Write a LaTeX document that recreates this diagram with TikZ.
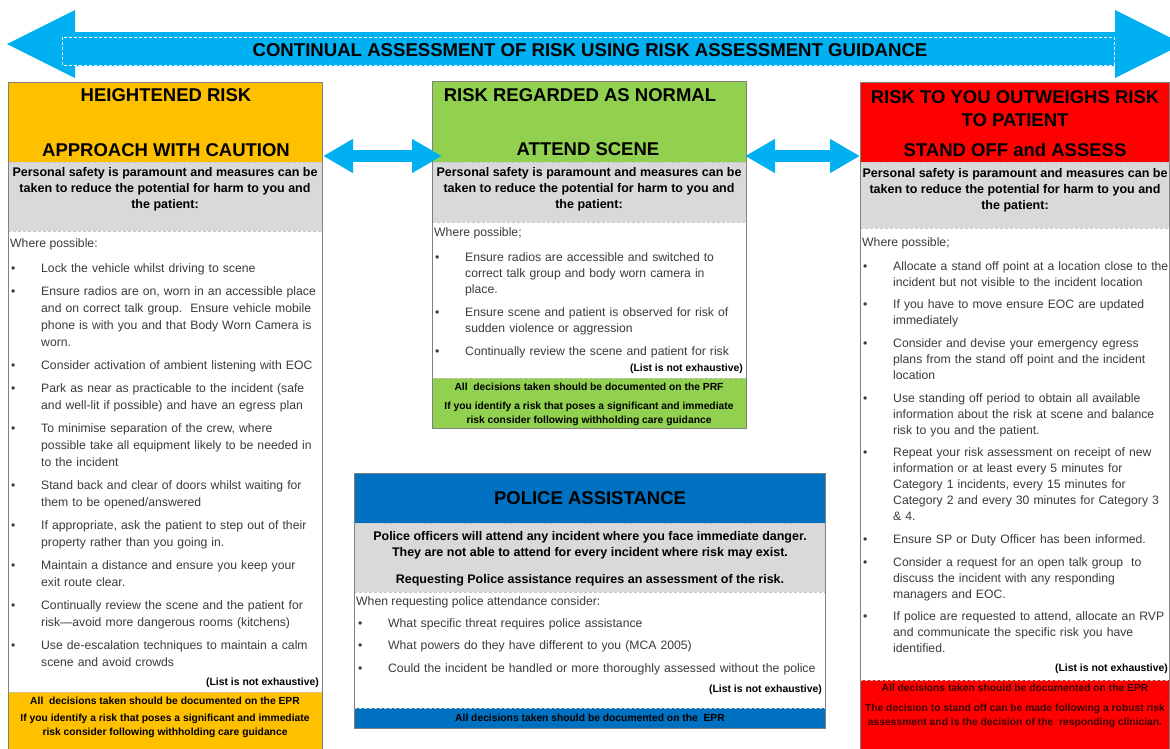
\documentclass[tikz,border=0pt]{standalone}
\usepackage{fontspec}
\setmainfont{Liberation Sans}
\usetikzlibrary{arrows.meta}

\definecolor{cautionorange}{HTML}{FFC000}
\definecolor{normalgreen}{HTML}{92D050}
\definecolor{policeblue}{HTML}{0070C0}
\definecolor{standred}{HTML}{FF0000}
\definecolor{panelgrey}{HTML}{D9D9D9}
\definecolor{arrowcyan}{HTML}{00B0F0}
\definecolor{bodytext}{HTML}{3A3A3A}
\definecolor{footred}{HTML}{3D0000}

\newcommand\itm[1]{\hangindent=30pt\hangafter=1\noindent\hbox to 30pt{\textbullet\hss}#1\par}

\tikzset{
  headline/.style={font=\fontsize{18.5}{22}\selectfont\bfseries, inner sep=0pt},
  leadtext/.style={font=\fontsize{12.5}{16}\selectfont\bfseries, align=center, inner sep=0pt, anchor=north},
  wheretext/.style={font=\fontsize{12.2}{16}\selectfont, text=bodytext, inner sep=0pt, anchor=north west},
  itemlist/.style 2 args={font=\fontsize{12.2}{#1}\selectfont, text=bodytext, inner sep=0pt,
    anchor=north west, text width=330pt, execute at begin node={\setlength{\parskip}{#2pt}}},
  notetext/.style={font=\fontsize{10.4}{12}\selectfont\bfseries, inner sep=0pt, anchor=east},
  foottext/.style={font=\fontsize{10.3}{14}\selectfont\bfseries, align=center, inner sep=0pt, anchor=north},
  panelframe/.style={draw=gray, line width=0.7pt},
  seam/.style={draw=gray!45, densely dashed, line width=0.6pt},
  linkarrow/.style={arrowcyan, line width=12pt,
    {Triangle[length=30pt,width=32pt]}-{Triangle[length=30pt,width=32pt]}}
}

\begin{document}
\begin{tikzpicture}[x=1pt,y=-1pt]
\useasboundingbox (0,0) rectangle (1170,748);

% assessment arrow across the top
\fill[arrowcyan] (7,44) -- (75,10) -- (75,32) -- (1115,32) -- (1115,10) -- (1183,44)
  -- (1115,78) -- (1115,66) -- (75,66) -- (75,78) -- cycle;
\draw[white, densely dashed, line width=0.5pt] (62,37) rectangle (1114,65);
\node[font=\fontsize{18.6}{20}\selectfont\bfseries, inner sep=0pt] (title) at (590,50)
  {CONTINUAL ASSESSMENT OF RISK USING RISK ASSESSMENT GUIDANCE};

% heightened risk panel
\fill[cautionorange] (8,82) rectangle (322,162);
\fill[panelgrey] (8,162) rectangle (322,231);
\fill[cautionorange] (8,692) rectangle (322,750);
\draw[seam] (8,162) -- (322,162) (8,231) -- (322,231) (8,692) -- (322,692);
\draw[panelframe] (8,82) rectangle (322,750);
\node[headline] (cautionhead) at (166,95) {HEIGHTENED RISK};
\node[headline] (cautionsub) at (166,150) {APPROACH WITH CAUTION};
\node[leadtext] (cautionlead) at (165,167.5)
  {Personal safety is paramount and measures can be\\taken to reduce the potential for harm to you and\\the patient:};
\node[wheretext] (cautionwhere) at (10,238) {Where possible:};
\node[itemlist={17}{6}] (cautionlist) at (11,263) {%
\itm{Lock the vehicle whilst driving to scene}
\itm{Ensure radios are on, worn in an accessible place\newline and on correct talk group.\ \ Ensure vehicle mobile\newline phone is with you and that Body Worn Camera is\newline worn.}
\itm{Consider activation of ambient listening with EOC}
\itm{Park as near as practicable to the incident (safe\newline and well-lit if possible) and have an egress plan}
\itm{To minimise separation of the crew, where\newline possible take all equipment likely to be needed in\newline to the incident}
\itm{Stand back and clear of doors whilst waiting for\newline them to be opened/answered}
\itm{If appropriate, ask the patient to step out of their\newline property rather than you going in.}
\itm{Maintain a distance and ensure you keep your\newline exit route clear.}
\itm{Continually review the scene and the patient for\newline risk—avoid more dangerous rooms (kitchens)}
\itm{Use de-escalation techniques to maintain a calm\newline scene and avoid crowds}};
\node[notetext] (cautionnote) at (319,683) {(List is not exhaustive)};
\node[foottext] (cautionfoot) at (165,696.5)
  {All~ decisions taken should be documented on the EPR\\[3.5pt]If you identify a risk that poses a significant and immediate\\risk consider following withholding care guidance};

% risk regarded as normal panel
\fill[normalgreen] (432,81) rectangle (746,162);
\fill[panelgrey] (432,162) rectangle (746,222);
\fill[normalgreen] (432,378) rectangle (746,428);
\draw[seam] (432,162) -- (746,162) (432,222) -- (746,222) (432,378) -- (746,378);
\draw[panelframe] (432,81) rectangle (746,428);
\node[headline] (normalhead) at (580,95) {RISK REGARDED AS NORMAL};
\node[headline] (normalsub) at (588,149) {ATTEND SCENE};
\node[leadtext] (normallead) at (589,167.5)
  {Personal safety is paramount and measures can be\\taken to reduce the potential for harm to you and\\the patient:};
\node[wheretext] (normalwhere) at (434,227) {Where possible;};
\node[itemlist={16}{7}] (normallist) at (435,252) {%
\itm{Ensure radios are accessible and switched to\newline correct talk group and body worn camera in\newline place.}
\itm{Ensure scene and patient is observed for risk of\newline sudden violence or aggression}
\itm{Continually review the scene and patient for risk}};
\node[notetext] (normalnote) at (743,369) {(List is not exhaustive)};
\node[foottext] (normalfoot) at (589,382.7)
  {All~ decisions taken should be documented on the PRF\\[5pt]If you identify a risk that poses a significant and immediate\\risk consider following withholding care guidance};

% police assistance panel
\fill[policeblue] (354,473) rectangle (825,523);
\fill[panelgrey] (354,523) rectangle (825,592);
\fill[policeblue] (354,708) rectangle (825,728);
\draw[seam] (354,523) -- (825,523) (354,592) -- (825,592) (354,708) -- (825,708);
\draw[panelframe] (354,473) rectangle (825,728);
\node[headline] (policehead) at (590,498) {POLICE ASSISTANCE};
\node[leadtext] (policelead) at (590,531)
  {Police officers will attend any incident where you face immediate danger.\\They are not able to attend for every incident where risk may exist.\\[11pt]Requesting Police assistance requires an assessment of the risk.};
\node[wheretext] (policewhere) at (356,596) {When requesting police attendance consider:};
\node[itemlist={16}{6.5}, text width=480pt] (policelist) at (358,618) {%
\itm{What specific threat requires police assistance}
\itm{What powers do they have different to you (MCA 2005)}
\itm{Could the incident be handled or more thoroughly assessed without the police}};
\node[notetext] (policenote) at (822,690) {(List is not exhaustive)};
\node[foottext, anchor=center] (policefoot) at (590,717.5)
  {All decisions taken should be documented on the~ EPR};

% stand off panel
\fill[standred] (860,82) rectangle (1172,162);
\fill[panelgrey] (860,162) rectangle (1172,228);
\fill[standred] (860,680) rectangle (1172,750);
\draw[seam] (860,162) -- (1172,162) (860,228) -- (1172,228) (860,680) -- (1172,680);
\draw[panelframe] (860,82) rectangle (1169,750);
\node[headline] (standhead) at (1015,97) {RISK TO YOU OUTWEIGHS RISK};
\node[headline] (standhead2) at (1015,120) {TO PATIENT};
\node[headline] (standsub) at (1015,150) {STAND OFF and ASSESS};
\node[leadtext] (standlead) at (1015,168)
  {Personal safety is paramount and measures can be\\taken to reduce the potential for harm to you and\\the patient:};
\node[wheretext] (standwhere) at (862,237) {Where possible;};
\node[itemlist={16}{6.7}] (standlist) at (863,261) {%
\itm{Allocate a stand off point at a location close to the\newline incident but not visible to the incident location}
\itm{If you have to move ensure EOC are updated\newline immediately}
\itm{Consider and devise your emergency egress\newline plans from the stand off point and the incident\newline location}
\itm{Use standing off period to obtain all available\newline information about the risk at scene and balance\newline risk to you and the patient.}
\itm{Repeat your risk assessment on receipt of new\newline information or at least every 5 minutes for\newline Category 1 incidents, every 15 minutes for\newline Category 2 and every 30 minutes for Category 3\newline \& 4.}
\itm{Ensure SP or Duty Officer has been informed.}
\itm{Consider a request for an open talk group\ \ to\newline discuss the incident with any responding\newline managers and EOC.}
\itm{If police are requested to attend, allocate an RVP\newline and communicate the specific risk you have\newline identified.}};
\node[notetext] (standnote) at (1168,669) {(List is not exhaustive)};
\node[foottext, text=footred] (standfoot) at (1015,683.7)
  {All decisions taken should be documented on the EPR\\[6pt]The decision to stand off can be made following a robust risk\\assessment and is the decision of the~ responding clinician.};

% links between the panels
\coordinate (cautionend) at (323,156);
\coordinate (normalstart) at (442,156);
\coordinate (normalend) at (745,156);
\coordinate (standstart) at (860,156);
\draw[linkarrow] (cautionend) -- (normalstart);
\draw[linkarrow] (normalend) -- (standstart);
\end{tikzpicture}
\end{document}
